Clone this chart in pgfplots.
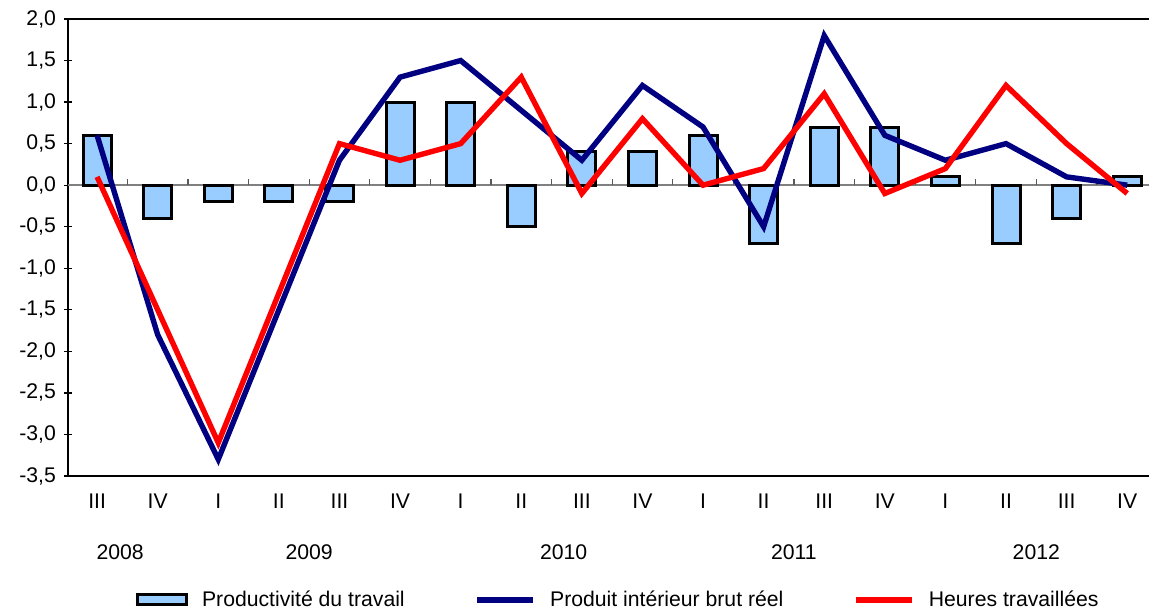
\documentclass[border=0pt]{standalone}
\usepackage{fontspec}
\setmainfont{Liberation Sans}
\usepackage{pgfplots}
\pgfplotsset{compat=1.18}
\definecolor{barblue}{HTML}{99CCFF}
\definecolor{navyline}{HTML}{000080}
\definecolor{redline}{HTML}{FF0000}
\begin{document}
\begin{tikzpicture}[font=\fontsize{10.6}{12.5}\selectfont]
\path[use as bounding box] (-34pt,-69pt) rectangle (540.5pt,238pt);
\begin{axis}[
  at={(0,0)}, anchor=south west,
  scale only axis, width=540.5pt, height=228.5pt,
  xmin=-0.48, xmax=17.36,
  ymin=-3.5, ymax=2,
  axis x line*=box, axis y line*=left,
  axis line style={black, line width=1.2pt},
  ytick={-3.5,-3,...,2},
  tick align=center, major tick length=4pt,
  y tick style={black, line width=0.6pt},
  yticklabel style={xshift=-0.5pt, /pgf/number format/.cd, fixed, fixed zerofill, precision=1, use comma, assume math mode=true},
  xtick={0,...,17},
  xticklabels={III,IV,I,II,III,IV,I,II,III,IV,I,II,III,IV,I,II,III,IV},
  x tick style={draw=none},
  x tick label style={yshift=-3.5pt},
  legend columns=3,
  legend style={at={(0.51,-0.271)}, anchor=center, draw=none, fill=none,
    /tikz/every odd column/.append style={column sep=5pt},
    /tikz/every even column/.append style={column sep=33pt}},
  legend cell align=left,
  clip=false,
]
\draw[gray, line width=0.8pt] (axis cs:-0.48,0) -- (axis cs:17.36,0);
\pgfplotsinvokeforeach{0.5,1.5,2.5,3.5,4.5,5.5,6.5,7.5,8.5,9.5,10.5,11.5,12.5,13.5,14.5,15.5,16.5}{
  \draw[gray!70!black, line width=0.6pt] (axis cs:#1,0) -- ([yshift=3pt]axis cs:#1,0);
}
\addplot[ybar, bar width=14pt, bar shift=0pt, fill=barblue, draw=black, line width=1.5pt,
  legend image code/.code={\draw[fill=barblue, draw=black, line width=1.5pt] (0pt,-2.5pt) rectangle (24.5pt,2.5pt);}]
  coordinates {(0,0.6) (1,-0.4) (2,-0.2) (3,-0.2) (4,-0.2) (5,1.0) (6,1.0) (7,-0.5) (8,0.4)
               (9,0.4) (10,0.6) (11,-0.7) (12,0.7) (13,0.7) (14,0.1) (15,-0.7) (16,-0.4) (17,0.1)};
\addlegendentry{Productivité du travail}
\addplot[navyline, line width=2.7pt, mark=none,
  legend image code/.code={\draw[navyline, line width=2.7pt] (0pt,0pt) -- (28pt,0pt);}]
  coordinates {(0,0.6) (1,-1.8) (2,-3.3) (3,-1.5) (4,0.3) (5,1.3) (6,1.5) (7,0.9) (8,0.3)
               (9,1.2) (10,0.7) (11,-0.5) (12,1.8) (13,0.6) (14,0.3) (15,0.5) (16,0.1) (17,0.0)};
\addlegendentry{Produit intérieur brut réel}
\addplot[redline, line width=2.7pt, mark=none,
  legend image code/.code={\draw[redline, line width=2.7pt] (0pt,0pt) -- (28pt,0pt);}]
  coordinates {(0,0.1) (1,-1.5) (2,-3.1) (3,-1.3) (4,0.5) (5,0.3) (6,0.5) (7,1.3) (8,-0.1)
               (9,0.8) (10,0.0) (11,0.2) (12,1.1) (13,-0.1) (14,0.2) (15,1.2) (16,0.5) (17,-0.1)};
\addlegendentry{Heures travaillées}
\node at ([yshift=-38pt]axis cs:0.38,-3.5) {2008};
\node at ([yshift=-38pt]axis cs:3.5,-3.5) {2009};
\node at ([yshift=-38pt]axis cs:7.7,-3.5) {2010};
\node at ([yshift=-38pt]axis cs:11.5,-3.5) {2011};
\node at ([yshift=-38pt]axis cs:15.5,-3.5) {2012};
\end{axis}
\end{tikzpicture}
\end{document}
